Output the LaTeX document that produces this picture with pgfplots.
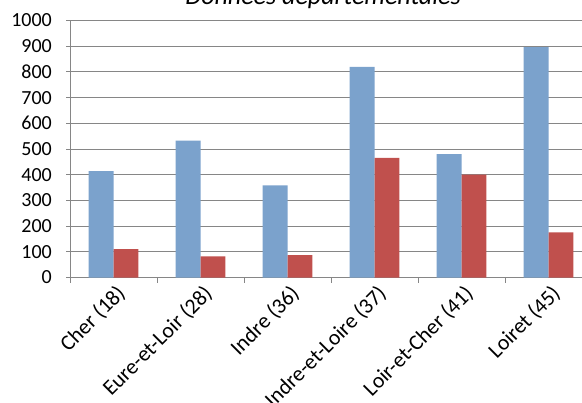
\documentclass[border=0pt]{standalone}
\usepackage{fontspec}
\setmainfont{Carlito}
\usepackage{pgfplots}
\pgfplotsset{compat=1.18}
\definecolor{serA}{RGB}{123,162,204}
\definecolor{serB}{RGB}{192,80,77}
\definecolor{gridc}{RGB}{134,134,134}
\begin{document}
\begin{tikzpicture}
\useasboundingbox (0,0) rectangle (582bp,403bp);
\begin{axis}[
  at={(70bp,125.5bp)}, anchor=south west,
  scale only axis, width=522bp, height=257bp,
  xmin=-0.5, xmax=5.5, ymin=0, ymax=1000,
  axis x line*=bottom, axis y line*=left,
  axis line style={gridc, line width=0.8bp},
  ytick={0,100,...,1000},
  xtick={0,...,5},
  xticklabels={Cher (18), Eure-et-Loir (28), Indre (36), Indre-et-Loire (37), Loir-et-Cher (41), Loiret (45)},
  minor xtick={-0.5,0.5,...,5.5},
  tick align=outside,
  major x tick style={draw=none},
  minor tick length=5bp,
  major tick length=4bp,
  tick style={gridc, line width=0.8bp},
  ymajorgrids,
  grid style={gridc, line width=0.8bp},
  /pgf/number format/assume math mode=true,
  /pgf/number format/1000 sep={},
  yticklabel style={font=\fontsize{20bp}{24bp}\selectfont, inner sep=0pt, anchor=east, xshift=-14bp},
  xticklabel style={font=\fontsize{21.8bp}{24bp}\selectfont, inner sep=0pt, rotate=45, anchor=east, yshift=-12bp},
  title={Données départementales},
  title style={font=\itshape\fontsize{26bp}{30bp}\selectfont, at={(0.4847,1)}, anchor=base, yshift=10bp, inner sep=0pt},
]
\addplot[ybar, fill=serA, draw=none, bar width=0.2857, bar shift=-0.14285]
  coordinates {(0,414) (1,533) (2,358) (3,820) (4,480) (5,896)};
\addplot[ybar, fill=serB, draw=none, bar width=0.2857, bar shift=0.14285]
  coordinates {(0,110) (1,82) (2,87) (3,465) (4,400) (5,176)};
\end{axis}
\end{tikzpicture}
\end{document}
